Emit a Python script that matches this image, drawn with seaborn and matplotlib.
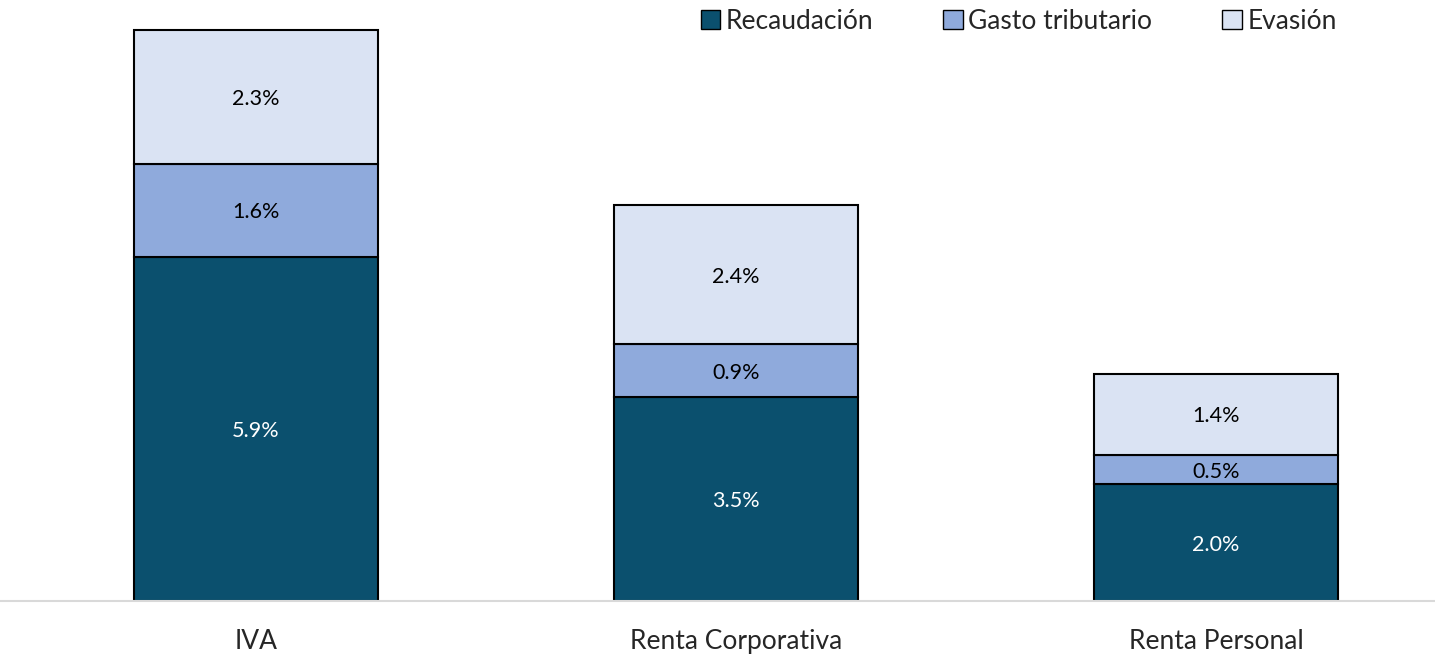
import pandas as pd
import seaborn as sns
import matplotlib.pyplot as plt
from matplotlib.patches import Patch

categorias = ["IVA", "Renta Corporativa", "Renta Personal"]
recaudacion = [5.9, 3.5, 2.0]
gasto_tributario = [1.6, 0.9, 0.5]
evasion = [2.3, 2.4, 1.4]

series = ["Recaudación", "Gasto tributario", "Evasión"]
colores = ["#0B506E", "#8FAADC", "#DAE3F3"]
colores_texto = ["white", "black", "black"]

sns.set_theme(style="white")
plt.rcParams['font.family'] = ['Lato', 'DejaVu Sans']

df = pd.DataFrame({
    "categoria": categorias,
    "Recaudación": recaudacion,
    "Gasto tributario": gasto_tributario,
    "Evasión": evasion,
})

fig = plt.figure(figsize=(14.35, 6.55), dpi=100)
ax = fig.add_axes([0, 1 - 601 / 655, 1, 601 / 655])

base = [0.0] * len(categorias)
for serie, color, tcolor in zip(series, colores, colores_texto):
    sns.barplot(data=df, x="categoria", y=serie, color=color, bottom=base,
                width=0.508, edgecolor="black", linewidth=1.5, saturation=1,
                ax=ax)
    for i, v in enumerate(df[serie]):
        ax.text(i, base[i] + v / 2, f"{v:.1f}%", ha="center",
                va="center_baseline", fontsize=15.5, color=tcolor)
    base = [b + v for b, v in zip(base, df[serie])]

ax.set_xlim(-256 / 480, (1435 - 256) / 480)
ax.set_ylim(0, 601 / 58.3)
ax.set_xlabel("")
ax.set_ylabel("")
ax.set_yticks([])
ax.tick_params(axis="x", labelsize=19, pad=20, length=0)
for s in ["top", "right", "left"]:
    ax.spines[s].set_visible(False)
ax.spines["bottom"].set_color("#D9D9D9")
ax.spines["bottom"].set_linewidth(1.5)

handles = [Patch(facecolor=c, edgecolor="black", linewidth=1) for c in colores]
ax.legend(handles, series, loc="upper right", bbox_to_anchor=(0.948, 1.025),
          ncol=3, frameon=False, fontsize=19, handlelength=0.75,
          handleheight=0.75, handletextpad=0.2, columnspacing=2.65)

fig.savefig("out.png", dpi=100)
